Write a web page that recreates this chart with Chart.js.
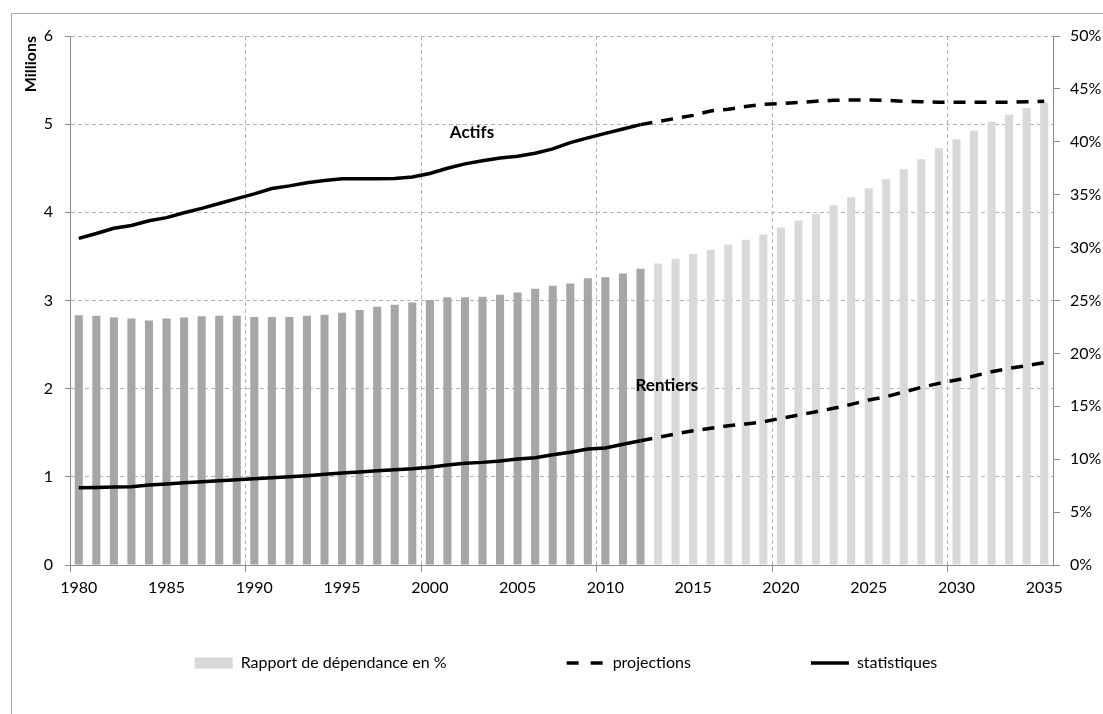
<!DOCTYPE html>
<html>
<head>
<meta charset="utf-8">
<script src="https://cdn.jsdelivr.net/npm/chart.js@4.4.1/dist/chart.umd.min.js"></script>
<style>
  html, body { margin: 0; padding: 0; background: #fff; }
  #wrap { position: relative; width: 1103px; height: 714px; }
</style>
</head>
<body>
<div id="wrap"><canvas id="myChart"></canvas></div>
<script>
// years on the x axis
var years = [];
for (var y = 1980; y <= 2035; y++) years.push(y);
var lastStatYear = 2012;

// Rapport de dépendance en % (right axis)
var rapport = [23.6,23.55,23.4,23.3,23.1,23.3,23.4,23.5,23.55,23.55,
  23.45,23.45,23.45,23.55,23.65,23.85,24.1,24.4,24.6,24.8,
  25.05,25.3,25.3,25.35,25.55,25.75,26.1,26.4,26.6,27.1,
  27.2,27.55,28.0,28.5,28.95,29.4,29.8,30.3,30.75,31.25,
  31.9,32.55,33.15,34.0,34.75,35.6,36.45,37.4,38.35,39.4,
  40.25,41.05,41.9,42.55,43.2,43.7];

// Actifs and Rentiers in millions (left axis)
var actifs = [3.705,3.76,3.82,3.85,3.905,3.94,3.995,4.045,4.10,4.155,
  4.21,4.27,4.30,4.335,4.36,4.38,4.38,4.38,4.385,4.40,
  4.44,4.50,4.55,4.585,4.615,4.635,4.67,4.72,4.79,4.845,
  4.895,4.945,4.995,5.03,5.065,5.10,5.15,5.17,5.20,5.225,
  5.235,5.245,5.26,5.27,5.275,5.275,5.27,5.26,5.255,5.25,
  5.25,5.25,5.25,5.25,5.255,5.26];
var rentiers = [0.877,0.88,0.885,0.888,0.907,0.919,0.934,0.945,0.956,0.968,
  0.979,0.99,1.00,1.013,1.028,1.043,1.055,1.068,1.081,1.092,
  1.108,1.134,1.153,1.164,1.18,1.202,1.217,1.251,1.278,1.316,
  1.327,1.369,1.41,1.448,1.486,1.523,1.55,1.58,1.60,1.625,
  1.664,1.70,1.739,1.777,1.822,1.871,1.909,1.962,2.015,2.06,
  2.098,2.143,2.192,2.23,2.26,2.295];

// series labels written on the plot
var seriesNotes = [
  { text: 'Actifs', year: 2002.4, value: 4.91 },
  { text: 'Rentiers', year: 2013.5, value: 2.04 }
];

var statIndex = years.indexOf(lastStatYear);
var gridGray = '#b4b4b4';
var axisGray = '#8c8c8c';
var dash = [12, 9];

Chart.defaults.font.family = 'Lato';
Chart.defaults.font.size = 16;
Chart.defaults.color = '#000';

var barColors = years.map(function (yr) { return yr <= lastStatYear ? '#a6a6a6' : '#d9d9d9'; });
var projDash = function (ctx) { return ctx.p0DataIndex >= statIndex ? dash : undefined; };

// frame round the whole chart (left and top edges)
var frame = {
  id: 'frame',
  beforeDraw: function (chart) {
    var c = chart.ctx;
    c.save();
    c.strokeStyle = '#a6a6a6';
    c.lineWidth = 1;
    c.beginPath();
    c.moveTo(11.5, chart.height);
    c.lineTo(11.5, 13.5);
    c.lineTo(chart.width, 13.5);
    c.stroke();
    c.restore();
  }
};

// the "Actifs" / "Rentiers" captions
var notes = {
  id: 'notes',
  afterDatasetsDraw: function (chart) {
    var c = chart.ctx, xs = chart.scales.x, ys = chart.scales.y;
    c.save();
    c.font = 'bold 17px Lato';
    c.fillStyle = '#000';
    c.textAlign = 'center';
    c.textBaseline = 'middle';
    seriesNotes.forEach(function (n) {
      c.fillText(n.text, xs.getPixelForValue(n.year - years[0]), ys.getPixelForValue(n.value));
    });
    c.restore();
  }
};

// keep the wide item spacing of the legend without it eating the plot height
var legendFix = {
  id: 'legendFix',
  afterInit: function (chart) {
    var lg = chart.legend;
    var fit = lg.fit;
    lg.fit = function () { fit.call(this); this.height = 40; };
  },
  afterLayout: function (chart) {
    var lg = chart.legend;
    var pad = lg.options.labels.padding;
    lg.top = chart.chartArea.bottom + 90 - pad;
    lg.bottom = lg.top + pad + 40;
  }
};

var ctx = document.getElementById('myChart');
var myChart = new Chart(ctx, {
  type: 'bar',
  data: {
    labels: years,
    datasets: [
      {
        type: 'line',
        label: 'Actifs',
        data: actifs,
        yAxisID: 'y',
        borderColor: '#000',
        borderWidth: 3.5,
        pointRadius: 0,
        fill: false,
        segment: { borderDash: projDash }
      },
      {
        type: 'line',
        label: 'Rentiers',
        data: rentiers,
        yAxisID: 'y',
        borderColor: '#000',
        borderWidth: 3.5,
        pointRadius: 0,
        fill: false,
        segment: { borderDash: projDash }
      },
      {
        label: 'Rapport de dépendance en %',
        data: rapport,
        yAxisID: 'y1',
        backgroundColor: barColors,
        categoryPercentage: 1,
        barPercentage: 0.46
      }
    ]
  },
  options: {
    responsive: true,
    maintainAspectRatio: false,
    animation: false,
    layout: { padding: { left: 29, right: 0, top: 36, bottom: 0 } },
    plugins: {
      tooltip: { enabled: false },
      legend: {
        position: 'bottom',
        labels: {
          padding: 120,
          usePointStyle: true,
          pointStyleWidth: 38,
          boxHeight: 11,
          font: { size: 16 },
          generateLabels: function () {
            return [
              { text: 'Rapport de dépendance en %', fillStyle: '#d9d9d9', strokeStyle: '#d9d9d9', lineWidth: 0, pointStyle: 'rect' },
              { text: 'projections', fillStyle: 'rgba(0,0,0,0)', strokeStyle: '#000', lineWidth: 3.5, lineDash: [12, 12], pointStyle: 'line' },
              { text: 'statistiques', fillStyle: 'rgba(0,0,0,0)', strokeStyle: '#000', lineWidth: 3.5, pointStyle: 'line' }
            ];
          }
        }
      }
    },
    scales: {
      x: {
        offset: true,
        afterFit: function (s) { s.height = 109; },
        grid: {
          offset: true,
          color: function (c) { return (c.index > 0 && c.index % 10 === 0) ? gridGray : 'rgba(0,0,0,0)'; },
          tickColor: function (c) { return (c.index % 10 === 0) ? axisGray : 'rgba(0,0,0,0)'; },
          tickLength: 7
        },
        border: { color: axisGray, dash: [4, 3] },
        ticks: {
          autoSkip: false,
          maxRotation: 0,
          padding: 6,
          callback: function (v, i) { return i % 5 === 0 ? String(years[i]) : ''; }
        }
      },
      y: {
        position: 'left',
        min: 0,
        max: 6,
        afterFit: function (s) { s.width = 41; },
        ticks: { stepSize: 1, padding: 12 },
        grid: { color: gridGray, tickColor: axisGray, tickLength: 5 },
        border: { color: axisGray, dash: [4, 3] },
        title: {
          display: true,
          text: 'Millions',
          align: 'end',
          font: { size: 16, weight: 'bold' },
          padding: { top: -8, bottom: 0 }
        }
      },
      y1: {
        position: 'right',
        min: 0,
        max: 50,
        afterFit: function (s) { s.width = 50; },
        ticks: { stepSize: 5, padding: 10, callback: function (v) { return v + '%'; } },
        grid: { drawOnChartArea: false, tickColor: axisGray, tickLength: 7 },
        border: { color: axisGray }
      }
    }
  },
  plugins: [frame, notes, legendFix]
});
</script>
</body>
</html>
